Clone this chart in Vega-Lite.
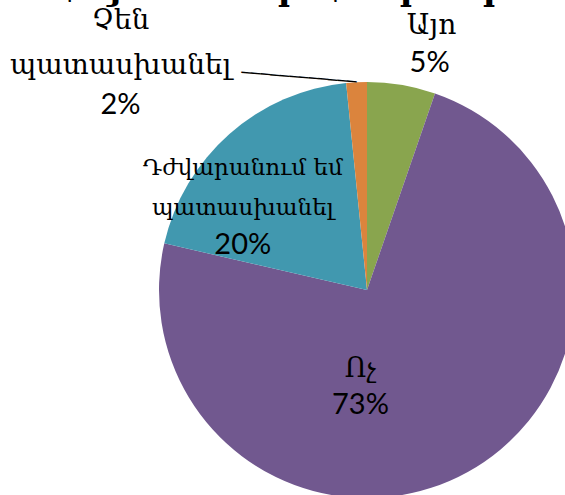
{
  "$schema": "https://vega.github.io/schema/vega-lite/v6.json",
  "width": 734,
  "height": 580,
  "autosize": "none",
  "padding": 0,
  "background": "#ffffff",
  "title": {
    "text": "Հայաստանի Հանրապետության կառավարության",
    "font": "DejaVu Serif",
    "fontWeight": "bold",
    "fontSize": 34,
    "color": "#000000",
    "anchor": "start",
    "baseline": "alphabetic",
    "offset": 0,
    "dx": 55,
    "dy": 34
  },
  "data": {
    "values": [
      {"cat": "Այո", "idx": 1, "name": "Այո", "share": 0.053},
      {"cat": "Ոչ", "idx": 2, "name": "Ոչ", "share": 0.733},
      {"cat": "Դժվարանում եմ պատասխանել", "idx": 3, "name": "Դժվարանում եմ\nպատասխանել", "share": 0.198},
      {"cat": "Չեն պատասխանել", "idx": 4, "name": "Չեն\nպատասխանել", "share": 0.016}
    ]
  },
  "encoding": {
    "theta": {"field": "share", "type": "quantitative", "stack": true},
    "order": {"field": "idx", "type": "quantitative"}
  },
  "layer": [
    {
      "mark": {"type": "arc", "outerRadius": 208},
      "encoding": {
        "color": {
          "field": "cat",
          "type": "nominal",
          "scale": {
            "domain": ["Այո", "Ոչ", "Դժվարանում եմ պատասխանել", "Չեն պատասխանել"],
            "range": ["#89A54E", "#71588F", "#4198AF", "#DB843D"]
          },
          "legend": null
        }
      }
    },
    {
      "mark": {"type": "text", "radius": 208, "align": "right", "baseline": "middle", "angle": 4.7, "font": "DejaVu Sans Mono", "fontSize": 16, "color": "#000000"},
      "encoding": {
        "text": {"condition": {"test": "datum.idx === 4", "value": "────────────"}, "value": ""}
      }
    },
    {
      "mark": {"type": "text", "radius": 245, "dx": 24, "dy": -22, "align": "center", "baseline": "middle", "lineBreak": "\n", "lineHeight": 44, "font": "DejaVu Serif", "fontSize": 28, "color": "#000000"},
      "encoding": {"text": {"condition": {"test": "datum.idx === 1", "field": "name"}, "value": ""}}
    },
    {
      "mark": {"type": "text", "radius": 245, "dx": 22, "dy": 15, "align": "center", "baseline": "middle", "font": "Lato", "fontSize": 29, "color": "#000000"},
      "encoding": {"text": {"condition": {"test": "datum.idx === 1", "field": "share", "format": ".0%"}, "value": ""}}
    },
    {
      "mark": {"type": "text", "radius": 100, "dx": -55, "dy": -8, "align": "center", "baseline": "middle", "lineBreak": "\n", "lineHeight": 44, "font": "DejaVu Serif", "fontSize": 27, "color": "#000000"},
      "encoding": {"text": {"condition": {"test": "datum.idx === 2", "field": "name"}, "value": ""}}
    },
    {
      "mark": {"type": "text", "radius": 100, "dx": -55, "dy": 28, "align": "center", "baseline": "middle", "font": "Lato", "fontSize": 29, "color": "#000000"},
      "encoding": {"text": {"condition": {"test": "datum.idx === 2", "field": "share", "format": ".0%"}, "value": ""}}
    },
    {
      "mark": {"type": "text", "radius": 150, "dx": -25, "dy": -9, "align": "center", "baseline": "middle", "lineBreak": "\n", "lineHeight": 40, "font": "DejaVu Serif", "fontSize": 23, "color": "#000000"},
      "encoding": {"text": {"condition": {"test": "datum.idx === 3", "field": "name"}, "value": ""}}
    },
    {
      "mark": {"type": "text", "radius": 150, "dx": -25, "dy": 68, "align": "center", "baseline": "middle", "font": "Lato", "fontSize": 29, "color": "#000000"},
      "encoding": {"text": {"condition": {"test": "datum.idx === 3", "field": "share", "format": ".0%"}, "value": ""}}
    },
    {
      "mark": {"type": "text", "radius": 208, "dx": -236, "dy": -61, "align": "center", "baseline": "middle", "lineBreak": "\n", "lineHeight": 45, "font": "DejaVu Serif", "fontSize": 28, "color": "#000000"},
      "encoding": {"text": {"condition": {"test": "datum.idx === 4", "field": "name"}, "value": ""}}
    },
    {
      "mark": {"type": "text", "radius": 208, "dx": -236, "dy": 23, "align": "center", "baseline": "middle", "font": "Lato", "fontSize": 29, "color": "#000000"},
      "encoding": {"text": {"condition": {"test": "datum.idx === 4", "field": "share", "format": ".0%"}, "value": ""}}
    }
  ]
}
